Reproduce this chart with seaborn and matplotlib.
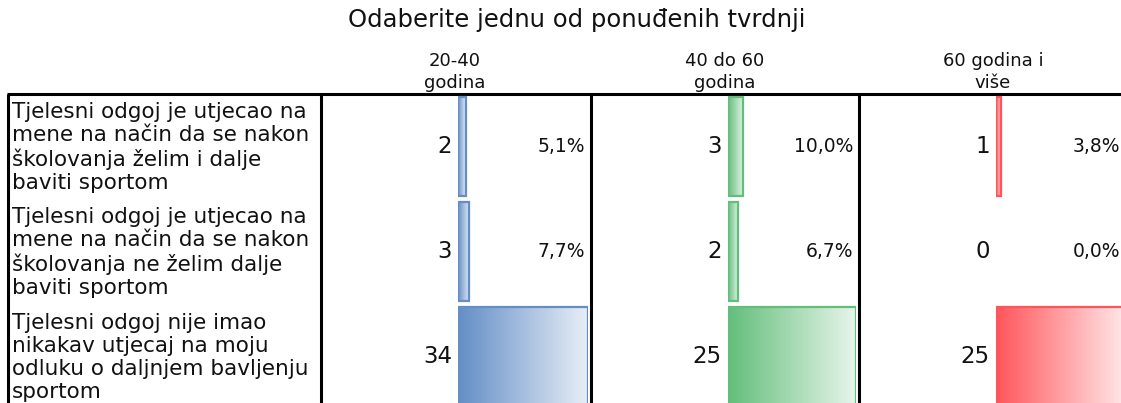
import numpy as np
import pandas as pd
import matplotlib
matplotlib.use("Agg")
import matplotlib.pyplot as plt
import seaborn as sns
from matplotlib.colors import to_rgb, LinearSegmentedColormap

title = "Odaberite jednu od ponuđenih tvrdnji"
statements = [
    "Tjelesni odgoj je utjecao na\nmene na način da se nakon\nškolovanja želim i dalje\nbaviti sportom",
    "Tjelesni odgoj je utjecao na\nmene na način da se nakon\nškolovanja ne želim dalje\nbaviti sportom",
    "Tjelesni odgoj nije imao\nnikakav utjecaj na moju\nodluku o daljnjem bavljenju\nsportom",
]
age_groups = ["20-40\ngodina", "40 do 60\ngodina", "60 godina i\nviše"]
counts_20_40 = [2, 3, 34]
counts_40_60 = [3, 2, 25]
counts_60_plus = [1, 0, 25]
pct_20_40 = [5.1, 7.7, 87.2]
pct_40_60 = [10.0, 6.7, 83.3]
pct_60_plus = [3.8, 0.0, 96.2]
bar_colors = ["#638EC6", "#63BE7B", "#FF555A"]

all_counts = [counts_20_40, counts_40_60, counts_60_plus]
all_pcts = [pct_20_40, pct_40_60, pct_60_plus]

sns.set_theme(style="white")
plt.rcParams["font.family"] = ["DejaVu Sans"]

W, H = 1121, 403
fig = plt.figure(figsize=(W / 100, H / 100), dpi=100)
bg = fig.add_axes([0, 0, 1, 1])
bg.set_xlim(0, W)
bg.set_ylim(H, 0)
bg.axis("off")

table_top = 94
row_h = 105
col_x = [8, 321, 591, 859, 1126]
ink = "#111111"

bg.text(577, 20, title, ha="center", va="center", fontsize=17.5, color=ink)

# grid lines
bg.plot([col_x[0] - 1, W], [table_top, table_top], color="black", lw=2.2, solid_capstyle="butt")
for x in col_x[:4]:
    bg.plot([x, x], [table_top, H + 5], color="black", lw=2.2, solid_capstyle="butt")

for i, s in enumerate(statements):
    bg.text(col_x[0] + 4, table_top + i * row_h + row_h / 2 + 1, s, ha="left", va="center",
            fontsize=15.5, linespacing=1.18, color=ink)

for j, grp in enumerate(age_groups):
    left, right = col_x[j + 1], col_x[j + 2]
    bg.text(left + 134, 72, grp, ha="center", va="center", fontsize=13,
            linespacing=1.3, color=ink)
    for i in range(3):
        yc = table_top + i * row_h + row_h / 2
        bg.text(left + 131, yc, str(all_counts[j][i]), ha="right", va="center",
                fontsize=16.5, color=ink)
        bg.text(right - 6, yc, f"{all_pcts[j][i]:.1f}%".replace(".", ","), ha="right",
                va="center", fontsize=13.5, color=ink, zorder=5)

    # data bars
    bx0, bx1 = left + 137, right - 3
    ax = fig.add_axes([bx0 / W, (H - (table_top + 3 * row_h)) / H,
                       (bx1 - bx0) / W, 3 * row_h / H])
    df = pd.DataFrame({"row": ["r1", "r2", "r3"], "pct": all_pcts[j]})
    sns.barplot(data=df, x="pct", y="row", orient="h", color=bar_colors[j],
                width=0.95, ax=ax)
    c = np.array(to_rgb(bar_colors[j]))
    cmap = LinearSegmentedColormap.from_list("g", [c, c + (1 - c) * 0.85])
    grad = np.linspace(0, 1, 256).reshape(1, -1)
    for p in ax.patches:
        w = p.get_width()
        if w <= 0:
            p.set_visible(False)
            continue
        x0, y0, h = p.get_x(), p.get_y(), p.get_height()
        ax.imshow(grad, cmap=cmap, aspect="auto", extent=[x0, x0 + w, y0 + h, y0],
                  zorder=1, interpolation="bilinear")
        p.set_facecolor("none")
        p.set_edgecolor(bar_colors[j])
        p.set_linewidth(1.6)
        p.set_zorder(2)
    ax.set_xlim(0, max(all_pcts[j]))
    ax.set_ylim(2.5, -0.5)
    ax.axis("off")

fig.savefig("out.png", dpi=100)
